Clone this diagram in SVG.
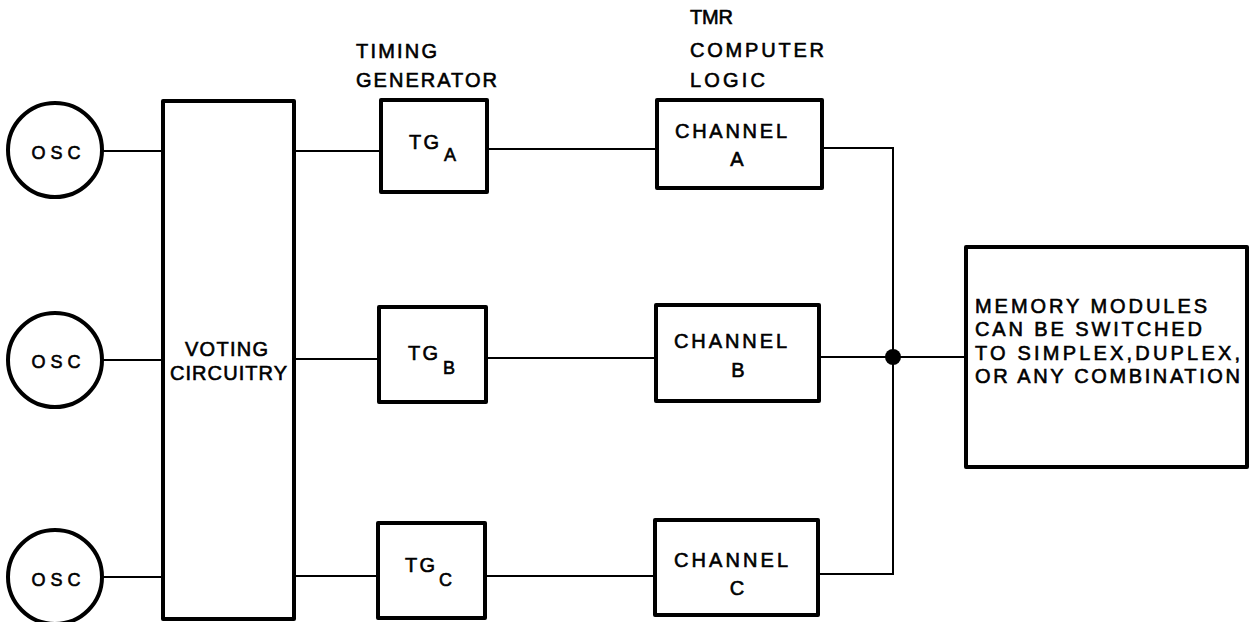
<svg xmlns="http://www.w3.org/2000/svg" width="1257" height="622" viewBox="0 0 1257 622">
<style>
.box{fill:none;stroke:#000;stroke-width:4;stroke-linejoin:round}
.osc{fill:none;stroke:#000;stroke-width:4}
.ln{fill:none;stroke:#000;stroke-width:2}
text{font-family:"Liberation Sans",Arial,sans-serif;font-size:20px;fill:#000;stroke:#000;stroke-width:0.6}
.sm{font-size:18px}
.mid{text-anchor:middle}
</style>
<rect width="1257" height="622" fill="#fff"/>
<g id="connectors">
<path class="ln" d="M102,151H163M102,360H163M102,577H163"/>
<path class="ln" d="M294,151H381M294,359H379M294,576H378"/>
<path class="ln" d="M487,149H657M486,358H656M485,576H655"/>
<path class="ln" d="M822,148H893V574H818"/>
<path class="ln" d="M819,357H966"/>
<circle cx="893" cy="357" r="8" fill="#000"/>
</g>
<g id="osc-a"><circle class="osc" cx="55" cy="150" r="47"/><text class="sm mid" x="56" y="159" textLength="49" lengthAdjust="spacing">OSC</text></g>
<g id="osc-b"><circle class="osc" cx="55" cy="360" r="47"/><text class="sm mid" x="56" y="368" textLength="49" lengthAdjust="spacing">OSC</text></g>
<g id="osc-c"><circle class="osc" cx="55" cy="577" r="47"/><text class="sm mid" x="56" y="586" textLength="49" lengthAdjust="spacing">OSC</text></g>
<g id="voting"><rect class="box" x="163" y="101" width="131" height="518"/>
<text x="185" y="356" textLength="83" lengthAdjust="spacing">VOTING</text>
<text x="170" y="380" textLength="117" lengthAdjust="spacing">CIRCUITRY</text></g>
<g id="timing-label"><text x="356" y="58" textLength="81" lengthAdjust="spacing">TIMING</text>
<text x="356" y="87" textLength="141" lengthAdjust="spacing">GENERATOR</text></g>
<g id="tg-a"><rect class="box" x="381" y="100" width="106" height="92"/>
<text x="409" y="149" textLength="30" lengthAdjust="spacing">TG</text><text class="sm" x="444" y="161">A</text></g>
<g id="tg-b"><rect class="box" x="379" y="307" width="107" height="95"/>
<text x="408" y="360" textLength="30" lengthAdjust="spacing">TG</text><text class="sm" x="443" y="374">B</text></g>
<g id="tg-c"><rect class="box" x="378" y="523" width="107" height="95"/>
<text x="405" y="572" textLength="30" lengthAdjust="spacing">TG</text><text class="sm" x="439" y="586">C</text></g>
<g id="tmr-label"><text x="690" y="24" textLength="43" lengthAdjust="spacing">TMR</text>
<text x="690" y="57" textLength="134" lengthAdjust="spacing">COMPUTER</text>
<text x="690" y="87" textLength="75" lengthAdjust="spacing">LOGIC</text></g>
<g id="channel-a"><rect class="box" x="657" y="100" width="165" height="88"/>
<text x="675" y="138" textLength="112" lengthAdjust="spacing">CHANNEL</text><text class="mid" x="737" y="166">A</text></g>
<g id="channel-b"><rect class="box" x="656" y="305" width="163" height="96"/>
<text x="674" y="348" textLength="113" lengthAdjust="spacing">CHANNEL</text><text class="mid" x="738" y="377">B</text></g>
<g id="channel-c"><rect class="box" x="655" y="520" width="163" height="95"/>
<text x="674" y="567" textLength="114" lengthAdjust="spacing">CHANNEL</text><text class="mid" x="737" y="595">C</text></g>
<g id="memory"><rect class="box" x="966" y="247" width="281" height="220"/>
<text x="975" y="313" textLength="232" lengthAdjust="spacing">MEMORY MODULES</text>
<text x="975" y="336" textLength="227" lengthAdjust="spacing">CAN BE SWITCHED</text>
<text x="975" y="360" textLength="265" lengthAdjust="spacing">TO SIMPLEX,DUPLEX,</text>
<text x="975" y="383" textLength="265" lengthAdjust="spacing">OR ANY COMBINATION</text></g>
</svg>
